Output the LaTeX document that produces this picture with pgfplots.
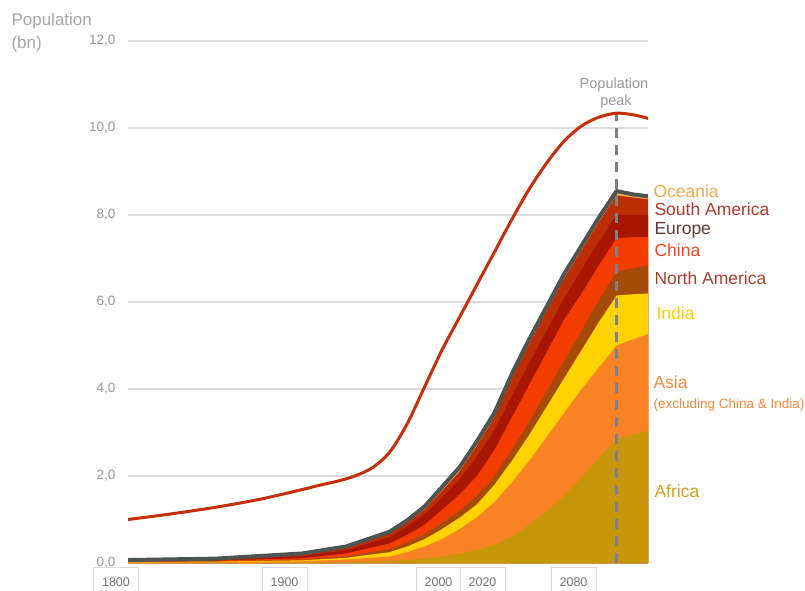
\documentclass[border=0pt]{standalone}
\usepackage{pgfplots}
\pgfplotsset{compat=1.18}
\usepackage{pgfplotstable}
\usepackage{fontspec}
\setmainfont{Liberation Sans}

% band colours
\definecolor{africa}{RGB}{200,150,10}
\definecolor{asia}{RGB}{249,130,37}
\definecolor{india}{RGB}{255,210,0}
\definecolor{nam}{RGB}{166,74,8}
\definecolor{china}{RGB}{242,60,0}
\definecolor{europe}{RGB}{168,22,0}
\definecolor{sam}{RGB}{188,46,4}
\definecolor{oceania}{RGB}{248,178,74}
\definecolor{outline}{RGB}{78,84,81}
\definecolor{worldline}{RGB}{195,48,11}
\definecolor{gridc}{RGB}{220,220,220}
\definecolor{dashc}{RGB}{124,128,136}
\definecolor{ticktext}{RGB}{150,150,150}
\definecolor{boxline}{RGB}{218,218,218}
% label colours
\definecolor{lOceania}{RGB}{246,168,76}
\definecolor{lSam}{RGB}{181,56,43}
\definecolor{lEurope}{RGB}{92,59,54}
\definecolor{lChina}{RGB}{242,69,29}
\definecolor{lNam}{RGB}{168,64,44}
\definecolor{lIndia}{RGB}{255,208,0}
\definecolor{lAsia}{RGB}{247,136,58}
\definecolor{lAfrica}{RGB}{201,161,30}

% cumulative tops of the regional bands (bn), bottom to top:
% A Africa, B Asia excl. China & India, C India, D North America,
% E China, F Europe, G South America, H Oceania
\pgfplotstableread{
year A     B     C     D     E     F     G     H
1800 0.005 0.015 0.022 0.027 0.035 0.048 0.058 0.068
1850 0.008 0.022 0.032 0.040 0.055 0.075 0.090 0.100
1900 0.012 0.040 0.062 0.078 0.110 0.160 0.200 0.220
1925 0.025 0.080 0.120 0.150 0.220 0.300 0.350 0.380
1950 0.050 0.150 0.250 0.320 0.450 0.600 0.680 0.720
1960 0.070 0.250 0.380 0.470 0.650 0.840 0.930 0.980
1970 0.100 0.380 0.550 0.660 0.880 1.120 1.230 1.300
1980 0.150 0.550 0.780 0.920 1.220 1.500 1.660 1.750
1990 0.210 0.780 1.040 1.200 1.580 1.920 2.100 2.200
2000 0.300 1.050 1.350 1.550 2.000 2.450 2.700 2.800
2010 0.420 1.400 1.800 2.000 2.600 3.050 3.350 3.450
2020 0.600 1.850 2.350 2.600 3.350 3.850 4.250 4.350
2030 0.880 2.350 2.950 3.250 4.100 4.600 5.050 5.150
2040 1.200 2.900 3.600 3.950 4.850 5.350 5.800 5.900
2050 1.550 3.450 4.250 4.650 5.600 6.100 6.550 6.650
2060 1.970 4.000 4.900 5.350 6.200 6.750 7.200 7.300
2070 2.420 4.500 5.550 6.050 6.850 7.400 7.850 7.950
2080 2.850 5.000 6.150 6.700 7.470 8.000 8.450 8.550
2090 2.960 5.150 6.180 6.780 7.490 8.000 8.400 8.470
2100 3.060 5.290 6.200 6.850 7.500 8.000 8.350 8.420
}\regions

% world population (bn)
\pgfplotstableread{
year pop
1800 1.00
1825 1.13
1850 1.28
1875 1.46
1900 1.69
1910 1.79
1920 1.88
1930 2.00
1940 2.19
1950 2.55
1960 3.20
1970 4.05
1980 4.90
1990 5.65
2000 6.40
2010 7.15
2020 7.90
2030 8.60
2040 9.20
2050 9.70
2060 10.05
2070 10.25
2080 10.34
2090 10.30
2100 10.20
}\world

\begin{document}
\begin{tikzpicture}[x=1pt,y=1pt]
\useasboundingbox (0,0) rectangle (805,591);

\begin{axis}[
  at={(128pt,28pt)}, anchor=south west,
  scale only axis, width=520pt, height=522pt,
  xmin=1800, xmax=2098, ymin=0, ymax=12,
  axis line style={draw=none},
  major tick length=0pt,
  xtick=\empty,
  ytick={0,2,4,6,8,10,12},
  yticklabels={{0,0},{2,0},{4,0},{6,0},{8,0},{10,0},{12,0}},
  ymajorgrids,
  grid style={gridc, line width=1.3pt},
  yticklabel style={font=\fontsize{13.5}{16}\selectfont, text=ticktext,
    anchor=east, xshift=-9pt},
]
% regional bands, painted from the top band down
\addplot[draw=none, fill=oceania] table[x=year, y=H] {\regions} \closedcycle;
\addplot[draw=none, fill=sam]     table[x=year, y=G] {\regions} \closedcycle;
\addplot[draw=none, fill=europe]  table[x=year, y=F] {\regions} \closedcycle;
\addplot[draw=none, fill=china]   table[x=year, y=E] {\regions} \closedcycle;
\addplot[draw=none, fill=nam]     table[x=year, y=D] {\regions} \closedcycle;
\addplot[draw=none, fill=india]   table[x=year, y=C] {\regions} \closedcycle;
\addplot[draw=none, fill=asia]    table[x=year, y=B] {\regions} \closedcycle;
\addplot[draw=none, fill=africa]  table[x=year, y=A] {\regions} \closedcycle;
% outline of the regional total
\addplot[outline, line width=4pt, line join=round] table[x=year, y=H] {\regions};
% population peak marker
\addplot[dashc, line width=2.4pt, dash pattern=on 10pt off 7pt]
  coordinates {(2080,0) (2080,10.33)};
% world population
\addplot[worldline, line width=3pt, smooth, tension=0.5] table[x=year, y=pop] {\world};
\end{axis}

% year boxes under the time axis
\tikzset{yearbox/.style={draw=boxline, fill=white, line width=0.8pt, text=black!55,
  font=\fontsize{12.5}{15}\selectfont, minimum width=45pt, minimum height=29pt,
  inner sep=0pt, anchor=north}}
\node[yearbox] at (116,24)   {1800};
\node[yearbox] at (284.5,24) {1900};
\node[yearbox] at (438.5,24) {2000};
\node[yearbox] at (482.5,24) {2020};
\node[yearbox] at (573.5,24) {2080};

% axis title
\node[anchor=base west, text=black!35, font=\fontsize{17}{20}\selectfont] at (8,565) {Population};
\node[anchor=base west, text=black!35, font=\fontsize{17}{20}\selectfont] at (8,542) {(bn)};

% peak label
\node[anchor=base, text=black!40, font=\fontsize{14.5}{17}\selectfont] at (614,502) {Population};
\node[anchor=base, text=black!40, font=\fontsize{14.5}{17}\selectfont] at (616,485) {peak};

% region labels
\begin{scope}[font=\fontsize{17.5}{20}\selectfont]
\node[anchor=base west, text=lOceania] at (650,393) {Oceania};
\node[anchor=base west, text=lSam]     at (651,375) {South America};
\node[anchor=base west, text=lEurope]  at (651,356) {Europe};
\node[anchor=base west, text=lChina]   at (651,334) {China};
\node[anchor=base west, text=lNam]     at (651,306) {North America};
\node[anchor=base west, text=lIndia]   at (653,271) {India};
\node[anchor=base west, text=lAsia]    at (650,202) {Asia};
\node[anchor=base west, text=lAfrica]  at (651,93)  {Africa};
\end{scope}
\node[anchor=base west, text=lAsia, font=\fontsize{13.5}{16}\selectfont] at (650,182) {(excluding China \& India)};
\end{tikzpicture}
\end{document}
